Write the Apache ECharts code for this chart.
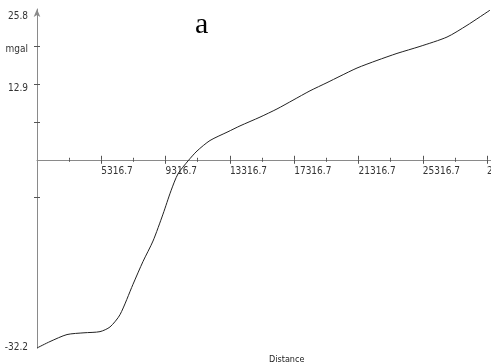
<!DOCTYPE html>
<html>
<head>
<meta charset="utf-8">
<script src="https://cdn.jsdelivr.net/npm/echarts@6/dist/echarts.min.js"></script>
<style>
html,body{margin:0;padding:0;background:#fff;}
#chart{width:491px;height:362px;}
</style>
</head>
<body>
<div id="chart"></div>
<script>
// Distance values
const distance = [1316.7, 2125, 3183, 4240, 5236, 5858, 6480, 7289, 7911, 8533, 9155, 9652, 10088, 10710, 11270, 12079, 13199, 13945, 15189, 16247, 17242, 18300, 19357, 20166, 21223, 22467, 23711, 25142, 26822, 28066, 29497];
// Gravity anomaly (mgal)
const gravity = [-32.2, -31.1, -29.9, -29.6, -29.4, -28.6, -26.5, -21.3, -17.4, -13.9, -9.3, -5.3, -2.4, -0.2, 1.5, 3.3, 4.8, 5.8, 7.3, 8.7, 10.2, 11.8, 13.2, 14.3, 15.7, 17.0, 18.2, 19.4, 21.0, 23.0, 25.6];
// Tick labels
const xMajorTicks = [5316.7, 9316.7, 13316.7, 17316.7, 21316.7, 25316.7, 29316.7];
const xMinorTicks = [3316.7, 7316.7, 11316.7, 15316.7, 19316.7, 23316.7, 27316.7];
const yLabelValues = [25.8, 19.35, 12.9, -32.2];
const yTickValues = [19.35, 12.9, 6.45, -6.45];
const yUnit = 'mgal';

const X_MIN = 1316.7, X_MAX = 29560, Y_MIN = -32.2, Y_MAX = 25.8;
const FONT = "'Liberation Sans Narrow', 'DejaVu Sans Condensed', 'Liberation Sans', sans-serif";

const W = 491, H = 362, GL = 37, GR = 0, GT = 9, GB = 14;
const gridH = H - GT - GB;
const zeroFromTop = (Y_MAX - 0) / (Y_MAX - Y_MIN) * gridH;
const zeroFromBottom = gridH - zeroFromTop;

const chart = echarts.init(document.getElementById('chart'));

function xAx(pos, ticks, len, withLine, withLabels) {
  return {
    type: 'value', position: pos, min: X_MIN, max: X_MAX,
    offset: pos === 'bottom' ? -zeroFromBottom : -zeroFromTop,
    axisLine: { show: withLine, onZero: false, lineStyle: { color: '#8a8a8a', width: 1 } },
    axisTick: { show: true, customValues: ticks, length: len, lineStyle: { color: '#555', width: 1 } },
    axisLabel: withLabels ? {
      show: true, customValues: xMajorTicks, align: 'left', margin: 7,
      fontSize: 10, color: '#333', fontFamily: FONT,
      formatter: v => v.toFixed(1)
    } : { show: false },
    splitLine: { show: false }
  };
}

function yLabelFmt(v) {
  if (Math.abs(v - 19.35) < 0.01) return '{m|' + yUnit + '}';
  if (Math.abs(v - 25.8) < 0.01) return '{t|' + v.toFixed(1) + '}';
  if (Math.abs(v + 32.2) < 0.01) return '{b|' + v.toFixed(1) + '}';
  return '{c|' + v.toFixed(1) + '}';
}

function yAx(pos, offset, withLine, withLabels) {
  return {
    type: 'value', position: pos, offset: offset, min: Y_MIN, max: Y_MAX,
    axisLine: withLine ? { show: true, onZero: false, symbol: ['none', 'arrow'], symbolSize: [5, 8], lineStyle: { color: '#8a8a8a', width: 1 } } : { show: false, onZero: false },
    axisTick: { show: true, customValues: yTickValues, length: 3, lineStyle: { color: '#555', width: 1 } },
    axisLabel: withLabels ? {
      show: true, customValues: yLabelValues, margin: 9,
      fontSize: 10, color: '#333', fontFamily: FONT,
      formatter: yLabelFmt,
      rich: {
        t: { fontSize: 10, fontFamily: FONT, color: '#333', padding: [14, 0, 0, 0] },
        m: { fontSize: 10, fontFamily: FONT, color: '#333', padding: [5, 0, 0, 0] },
        c: { fontSize: 10, fontFamily: FONT, color: '#333', padding: [8, 0, 0, 0] },
        b: { fontSize: 10, fontFamily: FONT, color: '#333', padding: [0, 0, 2, 0] }
      }
    } : { show: false },
    splitLine: { show: false }
  };
}

chart.setOption({
  animation: false,
  backgroundColor: '#fff',
  title: [
    { text: 'a', left: 190, top: 5, textStyle: { fontFamily: "'Liberation Serif', 'DejaVu Serif', serif", fontSize: 30, fontWeight: 'normal', color: '#000' } },
    { text: 'Distance', left: 264, top: 350, textStyle: { fontFamily: FONT, fontSize: 9, fontWeight: 'normal', color: '#222' } }
  ],
  grid: { left: GL, right: GR, top: GT, bottom: GB, containLabel: false, outerBoundsMode: 'none' },
  xAxis: [
    xAx('bottom', xMajorTicks, 4, true, true),
    xAx('top', xMajorTicks, 4, false, false),
    xAx('bottom', xMinorTicks, 2, false, false),
    xAx('top', xMinorTicks, 2, false, false)
  ],
  yAxis: [
    yAx('left', 0, true, true),
    yAx('right', -(W - GL - GR), false, false)
  ],
  series: [{
    type: 'line', xAxisIndex: 0, yAxisIndex: 0,
    data: distance.map((d, i) => [d, gravity[i]]),
    smooth: 0.25, showSymbol: false, clip: false,
    lineStyle: { color: '#222', width: 1 }
  }]
});
</script>
</body>
</html>
